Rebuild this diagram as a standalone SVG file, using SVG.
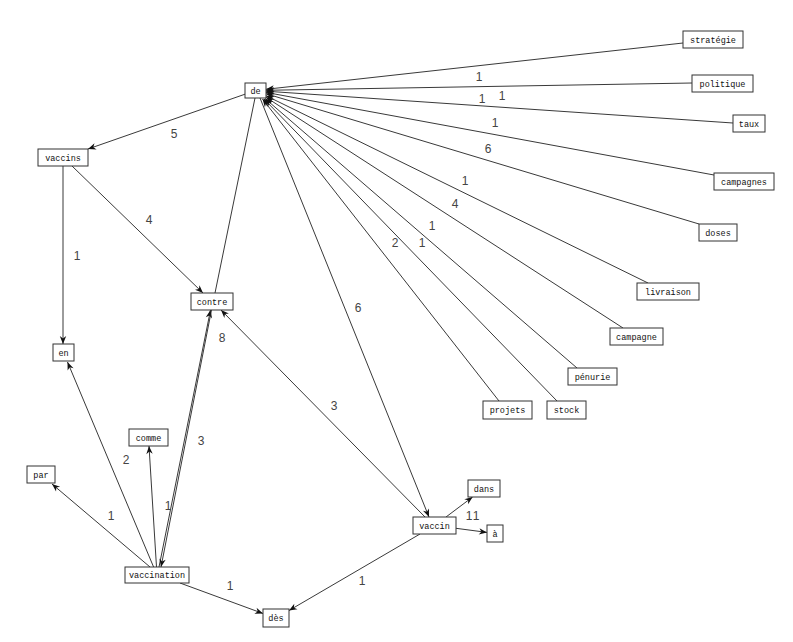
<svg xmlns="http://www.w3.org/2000/svg" width="793" height="642" viewBox="0 0 793 642">
<style>
.n rect{fill:#fff;stroke:#333;stroke-width:1}
.n text{font-family:"Liberation Mono","DejaVu Sans Mono",monospace;font-size:8.5px;fill:#111;text-anchor:middle}
.e line{stroke:#222;stroke-width:0.9;fill:none}
.e .a{marker-end:url(#ah)}
.l text{font-family:"Liberation Sans",Arial,sans-serif;font-size:12px;fill:#444;text-anchor:middle}
</style>
<defs>
<marker id="ah" viewBox="0 0 10 10" refX="10" refY="5" markerWidth="9" markerHeight="8" markerUnits="userSpaceOnUse" orient="auto">
<path d="M0,1 L10,5 L0,9 L3,5 Z" fill="#111"/>
</marker>
</defs>
<rect width="793" height="642" fill="#fff"/>
<g id="connectors" class="e">
<line class="a" x1="683" y1="43" x2="266" y2="89.3"/>
<line class="a" x1="692" y1="83" x2="266" y2="90.3"/>
<line class="a" x1="733" y1="123" x2="266" y2="91.2"/>
<line class="a" x1="714" y1="175" x2="266" y2="92.4"/>
<line class="a" x1="699" y1="224" x2="266" y2="93.7"/>
<line class="a" x1="648" y1="283" x2="266" y2="95.7"/>
<line class="a" x1="623" y1="328" x2="266" y2="97.3"/>
<line class="a" x1="577" y1="368" x2="265" y2="98.5"/>
<line class="a" x1="499" y1="401" x2="262.5" y2="99"/>
<line class="a" x1="557" y1="401" x2="264" y2="99"/>
<line class="a" x1="245" y1="94.2" x2="88" y2="149"/>
<line class="a" x1="260" y1="98" x2="429" y2="517"/>
<line x1="215" y1="293" x2="255" y2="98"/>
<line class="a" x1="72" y1="166" x2="203" y2="293"/>
<line class="a" x1="63" y1="166" x2="63" y2="344"/>
<line class="a" x1="153.6" y1="567" x2="67.5" y2="362"/>
<line class="a" x1="156.5" y1="567" x2="149" y2="446"/>
<line class="a" x1="150" y1="567" x2="52" y2="484"/>
<line class="a" x1="159" y1="567" x2="210.5" y2="310"/>
<line class="a" x1="211.5" y1="310" x2="161" y2="567"/>
<line class="a" x1="180" y1="583" x2="263" y2="613.5"/>
<line class="a" x1="420" y1="534" x2="289" y2="610.5"/>
<line class="a" x1="425" y1="517" x2="221" y2="310"/>
<line class="a" x1="446" y1="517" x2="472.6" y2="497"/>
<line class="a" x1="456" y1="528.3" x2="487" y2="532.4"/>
</g>
<g id="edge-labels" class="l">
<text x="479" y="81">1</text>
<text x="502" y="100">1</text>
<text x="482" y="103">1</text>
<text x="495" y="127">1</text>
<text x="488" y="153">6</text>
<text x="465" y="185">1</text>
<text x="455" y="208">4</text>
<text x="432" y="230">1</text>
<text x="422" y="247">1</text>
<text x="395" y="247">2</text>
<text x="358" y="312">6</text>
<text x="174" y="138">5</text>
<text x="149" y="224">4</text>
<text x="77" y="260">1</text>
<text x="222" y="342">8</text>
<text x="334" y="410">3</text>
<text x="201" y="445">3</text>
<text x="126" y="464">2</text>
<text x="168" y="510">1</text>
<text x="111" y="520">1</text>
<text x="230" y="590">1</text>
<text x="362" y="585">1</text>
<text x="469" y="520">1</text>
<text x="476" y="520">1</text>
</g>
<g id="node-de" class="n"><rect x="245" y="83" width="21" height="15"/><text x="255.5" y="93.5">de</text></g>
<g id="node-strategie" class="n"><rect x="683" y="31" width="60" height="17"/><text x="713" y="42.5">stratégie</text></g>
<g id="node-politique" class="n"><rect x="692" y="75" width="61" height="17"/><text x="722.5" y="86.5">politique</text></g>
<g id="node-taux" class="n"><rect x="733" y="115" width="32" height="17"/><text x="749" y="126.5">taux</text></g>
<g id="node-campagnes" class="n"><rect x="714" y="173" width="60" height="17"/><text x="744" y="184.5">campagnes</text></g>
<g id="node-doses" class="n"><rect x="699" y="224" width="38" height="17"/><text x="718" y="235.5">doses</text></g>
<g id="node-livraison" class="n"><rect x="637" y="283" width="62" height="17"/><text x="668" y="294.5">livraison</text></g>
<g id="node-campagne" class="n"><rect x="610" y="328" width="53" height="17"/><text x="636.5" y="339.5">campagne</text></g>
<g id="node-penurie" class="n"><rect x="568" y="368" width="49" height="17"/><text x="592.5" y="379.5">pénurie</text></g>
<g id="node-projets" class="n"><rect x="483" y="401" width="49" height="18"/><text x="507.5" y="413">projets</text></g>
<g id="node-stock" class="n"><rect x="547" y="401" width="39" height="18"/><text x="566.5" y="413">stock</text></g>
<g id="node-vaccins" class="n"><rect x="38" y="149" width="50" height="17"/><text x="63" y="160.5">vaccins</text></g>
<g id="node-contre" class="n"><rect x="191" y="293" width="42" height="17"/><text x="212" y="304.5">contre</text></g>
<g id="node-en" class="n"><rect x="53" y="344" width="21" height="17"/><text x="63.5" y="355.5">en</text></g>
<g id="node-comme" class="n"><rect x="129" y="429" width="39" height="17"/><text x="148.5" y="440.5">comme</text></g>
<g id="node-par" class="n"><rect x="27" y="466" width="28" height="17"/><text x="41" y="477.5">par</text></g>
<g id="node-vaccination" class="n"><rect x="125" y="567" width="64" height="16"/><text x="157" y="578">vaccination</text></g>
<g id="node-des" class="n"><rect x="263" y="609" width="26" height="18"/><text x="276" y="621">dès</text></g>
<g id="node-vaccin" class="n"><rect x="413" y="517" width="43" height="17"/><text x="434.5" y="528.5">vaccin</text></g>
<g id="node-dans" class="n"><rect x="468" y="480" width="32" height="17"/><text x="484" y="491.5">dans</text></g>
<g id="node-a" class="n"><rect x="487" y="525" width="16" height="17"/><text x="495" y="536.5">à</text></g>
</svg>
